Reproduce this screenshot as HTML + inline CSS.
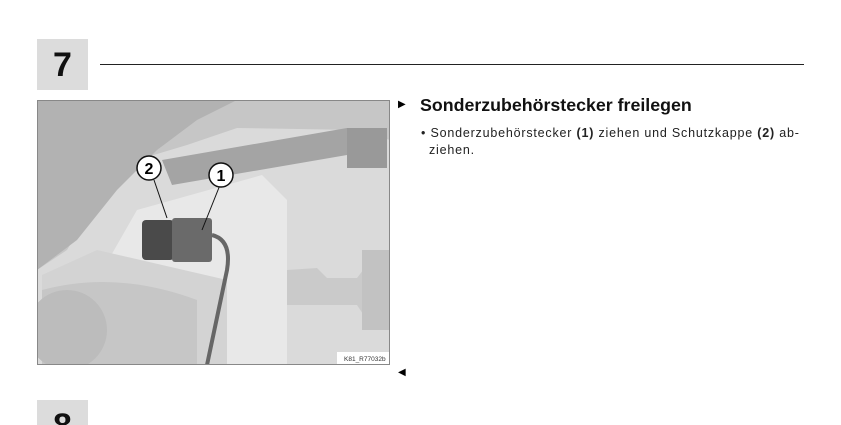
<!DOCTYPE html>
<html><head><meta charset="utf-8"><style>
html,body{margin:0;width:841px;height:425px;background:#fff;overflow:hidden;position:relative;font-family:"Liberation Sans",sans-serif;}
.num{position:absolute;left:37px;width:51px;height:51px;background:#dcdcdc;font-weight:bold;font-size:34px;color:#111;text-align:center;line-height:53px;overflow:hidden;}
</style></head><body>
<div class="num" style="top:39px">7</div>
<div style="position:absolute;left:100px;top:64px;width:704px;height:1px;background:#222"></div>
<svg style="position:absolute;left:37px;top:100px" width="353" height="265" viewBox="0 0 353 265">
<rect x="0" y="0" width="353" height="265" fill="#dadada"/>
<path d="M0 0 H353 V40 L320 30 L200 28 L150 45 L100 60 L60 100 L30 150 L0 170 Z" fill="#c6c6c6"/>
<path d="M0 0 H200 L160 20 L120 50 L80 90 L40 140 L0 170 Z" fill="#b2b2b2"/>
<path d="M125 60 L310 28 L345 30 L345 60 L310 55 L135 85 Z" fill="#a4a4a4"/>
<path d="M310 28 h40 v40 h-40 z" fill="#999"/>
<path d="M100 110 L225 75 L250 100 L250 265 L170 265 L175 190 L60 180 Z" fill="#e8e8e8"/>
<path d="M5 175 L60 150 L190 180 L190 265 L5 265 Z" fill="#d3d3d3"/>
<path d="M5 190 Q80 170 160 200 L160 265 L5 265 Z" fill="#c6c6c6"/>
<circle cx="30" cy="230" r="40" fill="#bcbcbc"/>
<path d="M250 170 L280 168 L290 178 L320 178 L330 165 L353 160 L353 225 L330 220 L320 205 L250 205 Z" fill="#cacaca"/>
<path d="M325 150 h28 v80 h-28 z" fill="#c2c2c2"/>
<rect x="105" y="120" width="32" height="40" rx="4" fill="#4a4a4a"/>
<rect x="135" y="118" width="40" height="44" rx="3" fill="#6a6a6a"/>
<path d="M175 135 Q195 140 190 170 L170 265" stroke="#666" stroke-width="4" fill="none"/>
<line x1="117" y1="80" x2="130" y2="118" stroke="#111" stroke-width="1"/>
<line x1="183" y1="85" x2="165" y2="130" stroke="#111" stroke-width="1"/>
<circle cx="112" cy="68" r="12" fill="#fff" stroke="#111" stroke-width="1.5"/>
<text x="112" y="74" font-family="Liberation Sans" font-weight="bold" font-size="16" text-anchor="middle">2</text>
<circle cx="184" cy="75" r="12" fill="#fff" stroke="#111" stroke-width="1.5"/>
<text x="184" y="81" font-family="Liberation Sans" font-weight="bold" font-size="16" text-anchor="middle">1</text>
<rect x="300" y="252" width="53" height="13" fill="#fff"/>
<text x="307" y="261" font-family="Liberation Sans" font-size="6.5" fill="#333">K81_R77032b</text>
<rect x="0.5" y="0.5" width="352" height="264" fill="none" stroke="#888"/>
</svg>
<div style="position:absolute;left:398px;top:99px;font-size:10px">&#9654;</div>
<div style="position:absolute;left:420px;top:95px;font-weight:bold;font-size:17.8px;color:#111;white-space:nowrap">Sonderzubehörstecker freilegen</div>
<div style="position:absolute;left:421px;top:125px;font-size:12.5px;letter-spacing:0.8px;line-height:17px;color:#222;width:400px;white-space:nowrap">• Sonderzubehörstecker <b>(1)</b> ziehen und Schutzkappe <b>(2)</b> ab-<br><span style="padding-left:8px">ziehen.</span></div>
<div style="position:absolute;left:398px;top:367px;font-size:10px">&#9664;</div>
<div class="num" style="top:400px;height:25px">8</div>
</body></html>
